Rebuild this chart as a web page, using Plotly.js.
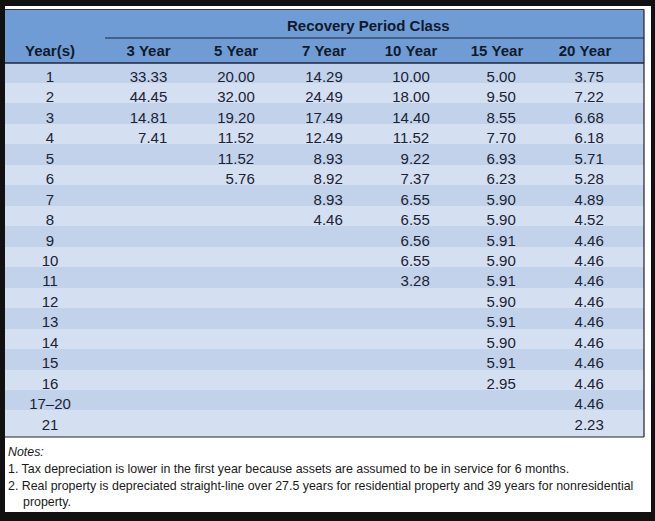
<!DOCTYPE html>
<html>
<head>
<meta charset="utf-8">
<script src="https://cdn.plot.ly/plotly-3.0.1.min.js"></script>
<style>
  body { margin: 0; background: #111; }
  #chart { width: 655px; height: 521px; }
</style>
</head>
<body>
<div id="chart"></div>
<script>
const W = 655
const H = 521

// table data
const years = ['1','2','3','4','5','6','7','8','9','10','11','12','13','14','15','16','17–20','21']
const headers = ['Year(s)','3 Year','5 Year','7 Year','10 Year','15 Year','20 Year']
const rate3 = [33.33, 44.45, 14.81, 7.41]
const rate5 = [20.00, 32.00, 19.20, 11.52, 11.52, 5.76]
const rate7 = [14.29, 24.49, 17.49, 12.49, 8.93, 8.92, 8.93, 4.46]
const rate10 = [10.00, 18.00, 14.40, 11.52, 9.22, 7.37, 6.55, 6.55, 6.56, 6.55, 3.28]
const rate15 = [5.00, 9.50, 8.55, 7.70, 6.93, 6.23, 5.90, 5.90, 5.91, 5.90, 5.91, 5.90, 5.91, 5.90, 5.91, 2.95]
const rate20 = [3.75, 7.22, 6.68, 6.18, 5.71, 5.28, 4.89, 4.52, 4.46, 4.46, 4.46, 4.46, 4.46, 4.46, 4.46, 4.46, 4.46, 2.23]
const notes = [
	'1. Tax depreciation is lower in the first year because assets are assumed to be in service for 6 months.',
	'2. Real property is depreciated straight-line over 27.5 years for residential property and 39 years for nonresidential',
	'property.'
]

// pixel -> paper
function px(x){ return x / W }
function py(y){ return 1 - y / H }

// numbers padded with figure spaces so they line up on the right
function fmt(list){
	let out = []
	for(let i=0;i<years.length;i++){
		out.push(i < list.length ? list[i].toFixed(2).padStart(5, '\u2007') : '')
	}
	return out
}

let blank = years.map(() => '')
const dark = '#c2d2eb'
const light = '#d4dff1'
let rowFill = years.map((d, i) => i % 2 == 0 ? dark : light)
// no wrapping inside the header cells
let headerText = headers.map(h => h.replace(' ', '\u00a0')).concat([''])

const blue = '#6f9cd5'
const ink = '#1b2233'

let traces = [{
	type: 'table',
	domain: {x: [px(5), px(644)], y: [py(445), py(37)]},
	columnwidth: [90, 107, 68, 108, 66, 106, 70, 24],
	header: {
		values: headerText,
		height: 25.5,
		align: 'center',
		fill: {color: blue},
		line: {width: 0, color: blue},
		font: {family: 'Liberation Sans, Arial, sans-serif', size: 15, color: '#111a2b', weight: 'bold'}
	},
	cells: {
		values: [years, fmt(rate3), fmt(rate5), fmt(rate7), fmt(rate10), fmt(rate15), fmt(rate20), blank],
		height: 20.47,
		align: 'center',
		fill: {color: [rowFill]},
		line: {width: 0, color: dark},
		font: {family: 'Liberation Sans, Arial, sans-serif', size: 15, color: ink}
	}
}]

let shapes = [
	{type: 'rect', xref: 'paper', yref: 'paper', layer: 'below', x0: px(5), x1: px(651), y0: py(512), y1: py(6), fillcolor: '#ffffff', line: {width: 0}},
	// the last row runs a little deeper than the others
	{type: 'rect', xref: 'paper', yref: 'paper', layer: 'below', x0: px(5), x1: px(644), y0: py(437), y1: py(426), fillcolor: light, line: {width: 0}},
	{type: 'rect', xref: 'paper', yref: 'paper', x0: px(5), x1: px(644), y0: py(38), y1: py(9.5), fillcolor: blue, line: {width: 0}},
	{type: 'line', xref: 'paper', yref: 'paper', x0: px(5), x1: px(644), y0: py(9.5), y1: py(9.5), line: {color: '#2a3550', width: 1}},
	{type: 'line', xref: 'paper', yref: 'paper', x0: px(105), x1: px(644), y0: py(38), y1: py(38), line: {color: '#1c2740', width: 1.2}},
	{type: 'line', xref: 'paper', yref: 'paper', x0: px(5), x1: px(644), y0: py(63), y1: py(63), line: {color: '#1c2740', width: 1.4}},
	{type: 'line', xref: 'paper', yref: 'paper', x0: px(644), x1: px(644), y0: py(437), y1: py(9.5), line: {color: '#222', width: 1.2}},
	{type: 'line', xref: 'paper', yref: 'paper', x0: px(5), x1: px(644), y0: py(437), y1: py(437), line: {color: '#222', width: 1.2}}
]

let noteFont = {family: 'Liberation Sans, Arial, sans-serif', size: 12.4, color: '#1a1a1a'}
function note(x, y, text){
	return {xref: 'paper', yref: 'paper', x: px(x), y: py(y), xanchor: 'left', yanchor: 'middle', text: text, showarrow: false, font: noteFont}
}
let annotations = [
	{xref: 'paper', yref: 'paper', x: px(368), y: py(25), xanchor: 'center', yanchor: 'middle', text: '<b>Recovery Period Class</b>', showarrow: false,
		font: {family: 'Liberation Sans, Arial, sans-serif', size: 15, color: '#111a2b'}},
	note(6, 452, '<i>Notes:</i>'),
	note(6, 469, notes[0]),
	note(6, 486, notes[1]),
	note(21, 502, notes[2])
]

Plotly.newPlot('chart', traces, {
	width: W,
	height: H,
	margin: {l: 0, r: 0, t: 0, b: 0},
	paper_bgcolor: '#111111',
	showlegend: false,
	shapes: shapes,
	annotations: annotations
}, {staticPlot: true})
</script>
</body>
</html>
